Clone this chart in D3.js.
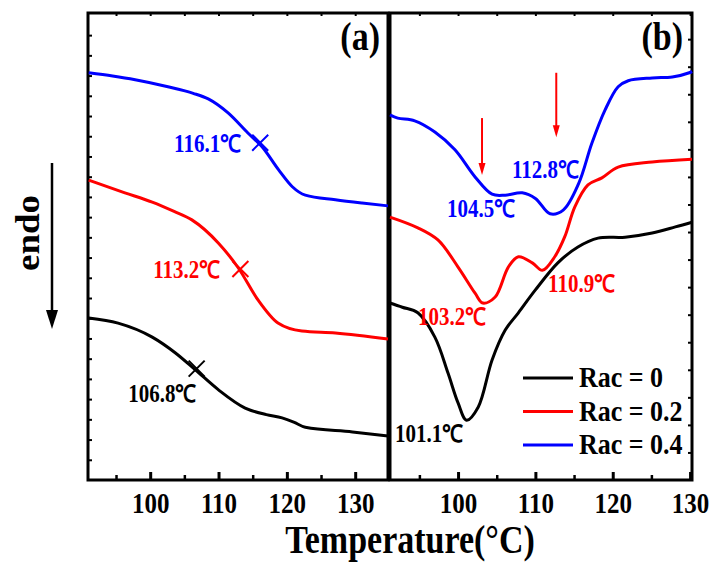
<!DOCTYPE html>
<html>
<head>
<meta charset="utf-8">
<script src="https://cdn.jsdelivr.net/npm/d3@7"></script>
<style>
  body { margin: 0; background: #fff; }
  text { font-family: "Liberation Serif", "Times New Roman", serif; font-weight: bold; }
</style>
</head>
<body>
<div id="chart"></div>
<script>
// DSC curves, heat flow in arbitrary units (endo down)
// panel (a)
var tBlackA = [91, 95.3, 100.3, 103.7, 106.6, 110, 113.9, 117, 119.3, 121, 122.7, 129.6, 134.8];
var uBlackA = [34.7, 33.6, 30.6, 27.2, 23.6, 19.3, 15.4, 14.0, 13.3, 12.4, 11.3, 10.3, 9.4];
var tRedA = [91, 96.3, 100.3, 103.5, 106.1, 110, 112.9, 115.8, 118.7, 122.2, 127.1, 134.8];
var uRedA = [64.2, 61.5, 59.5, 57.5, 55.7, 50.7, 45.4, 38.5, 33.6, 31.9, 31.5, 30.2];
var tBlueA = [91, 94.5, 97.8, 102.6, 106.3, 108.5, 111.4, 114.3, 116.4, 118.8, 120.8, 122.7, 127.1, 131, 134.8];
var uBlueA = [87.2, 86.5, 85.7, 84.2, 82.8, 81.6, 78.6, 74.3, 71.3, 66.4, 62.8, 61.0, 60.0, 59.3, 58.7];

// panel (b)
var tBlackB = [91.2, 92.8, 94.8, 97, 98.7, 100, 101.1, 102.6, 104.4, 106.1, 107.8, 110, 112.9, 115.5, 118.1, 121.6, 125.1, 128.1, 130.25];
var uBlackB = [37.9, 37.0, 35.8, 30.6, 22.9, 16.5, 12.8, 15.6, 25.7, 32.1, 35.8, 40.7, 46.5, 49.9, 51.8, 52.0, 52.9, 54.2, 55.2];
var tRedB = [91.2, 94.8, 97.4, 100, 102.2, 103.2, 104.8, 106.5, 107.8, 109.6, 110.9, 112.5, 113.8, 115.1, 116.8, 118.6, 120.7, 125.1, 130.25];
var uRedB = [56.3, 54.0, 51.4, 45.6, 40.0, 37.9, 39.2, 45.6, 47.8, 46.5, 44.9, 47.8, 52.1, 58.5, 63.2, 64.7, 67.0, 68.1, 68.7];
var tBlueB = [91.2, 92.2, 94.4, 97, 99.6, 102.2, 104.4, 106.1, 108.3, 110, 111.9, 113.6, 115.6, 117.3, 119.0, 120.7, 122, 125.1, 127.7, 129.9, 130.25];
var uBlueB = [78.2, 77.5, 76.9, 74.5, 70.7, 64.9, 61.2, 61.0, 61.5, 60.3, 57.0, 57.8, 63.5, 72.1, 79.2, 84.2, 85.5, 86.1, 86.3, 87.2, 87.5];

// glass transition marks (a) and peak labels (b)
var tgA = [106.8, 113.2, 116.1];
var peakB = [101.1, 103.2, 110.9, 104.5, 112.8];
var arrowB = [103.1, 112.7];

var seriesNames = ["Rac = 0", "Rac = 0.2", "Rac = 0.4"];
var colors = ["#000000", "#ff0000", "#0000ff"];
var xTicks = [100, 110, 120, 130];

var W = 714, H = 565;
var top0 = 13, bottom0 = 480;

var svg = d3.select("#chart").append("svg").attr("width", W).attr("height", H);

var y = d3.scaleLinear().domain([0, 100]).range([bottom0, top0]);
var xa = d3.scaleLinear().domain([90.9, 134.8]).range([88, 388]);
var xb = d3.scaleLinear().domain([91.2, 130.25]).range([390, 692]);

function zipup(t, u) { return t.map(function (d, i) { return [d, u[i]]; }); }

function interp(t, u, v) {
  for (var i = 1; i < t.length; i++) {
    if (v <= t[i]) {
      var f = (v - t[i - 1]) / (t[i] - t[i - 1]);
      return u[i - 1] + f * (u[i] - u[i - 1]);
    }
  }
  return u[u.length - 1];
}

// text with a slight vertical stretch like the original figure
function label(x0, y0, str, size, color, anchor) {
  return svg.append("text")
    .attr("transform", "translate(" + x0 + "," + y0 + ") scale(1,1.15)")
    .attr("text-anchor", anchor || "start")
    .style("font-size", size + "px")
    .style("fill", color || "#000")
    .text(str);
}

function drawPanel(x, ticksLeft, ticksRight) {
  var g = svg.append("g");
  var minor = d3.range(95, x.domain()[1], 5).filter(function (d) { return d % 10 != 0; });
  var all5 = d3.range(95, x.domain()[1], 5);

  g.append("g").attr("transform", "translate(0," + bottom0 + ")")
    .call(d3.axisBottom(x).tickValues(xTicks).tickSize(-8).tickPadding(0).tickFormat(d3.format("d")))
    .call(function (s) {
      s.select(".domain").remove();
      s.selectAll("line").attr("stroke-width", 3);
      s.selectAll("text").attr("y", 0).attr("dy", 0)
        .attr("transform", "translate(0,33) scale(1,1.15)")
        .style("font-size", "25px").style("font-family", "Liberation Serif").style("font-weight", "bold");
    });
  g.append("g").attr("transform", "translate(0," + bottom0 + ")")
    .call(d3.axisBottom(x).tickValues(minor).tickSize(-5).tickFormat(""))
    .call(function (s) { s.select(".domain").remove(); s.selectAll("line").attr("stroke-width", 2.5); });
  g.append("g").attr("transform", "translate(0," + top0 + ")")
    .call(d3.axisTop(x).tickValues(all5).tickSize(-3).tickFormat(""))
    .call(function (s) { s.select(".domain").remove(); s.selectAll("line").attr("stroke-width", 2); });

  if (ticksLeft) {
    g.append("g").attr("transform", "translate(" + x.range()[0] + ",0)")
      .call(d3.axisLeft(y).tickValues(ticksLeft).tickSize(-4).tickFormat(""))
      .call(function (s) { s.select(".domain").remove(); s.selectAll("line").attr("stroke-width", 2); });
  }
  if (ticksRight) {
    g.append("g").attr("transform", "translate(" + x.range()[1] + ",0)")
      .call(d3.axisRight(y).tickValues(ticksRight).tickSize(-4).tickFormat(""))
      .call(function (s) { s.select(".domain").remove(); s.selectAll("line").attr("stroke-width", 2); });
  }

  g.append("rect")
    .attr("x", x.range()[0]).attr("y", top0)
    .attr("width", x.range()[1] - x.range()[0]).attr("height", bottom0 - top0)
    .attr("fill", "none").attr("stroke", "#000").attr("stroke-width", 3);
  return g;
}

drawPanel(xa, d3.range(4.33, 99, 4.33), null);
drawPanel(xb, null, d3.range(5.9, 99, 5.9));

function curve(x, c) {
  return d3.line().x(function (d) { return x(d[0]); }).y(function (d) { return y(d[1]); })
    .curve(c);
}

var dataA = [zipup(tBlackA, uBlackA), zipup(tRedA, uRedA), zipup(tBlueA, uBlueA)];
var dataB = [zipup(tBlackB, uBlackB), zipup(tRedB, uRedB), zipup(tBlueB, uBlueB)];

svg.append("g").selectAll("path").data(dataA).join("path")
  .attr("d", curve(xa, d3.curveMonotoneX))
  .attr("fill", "none").attr("stroke", function (d, i) { return colors[i]; })
  .attr("stroke-width", 3);

svg.append("g").selectAll("path").data(dataB).join("path")
  .attr("d", curve(xb, d3.curveCatmullRom.alpha(0.5)))
  .attr("fill", "none").attr("stroke", function (d, i) { return colors[i]; })
  .attr("stroke-width", 3);

// Tg crosses on panel (a)
var tsA = [tBlackA, tRedA, tBlueA], usA = [uBlackA, uRedA, uBlueA];
tgA.forEach(function (tg, i) {
  var cx = xa(tg), cy = y(interp(tsA[i], usA[i], tg) + 0.5);
  var s = 8;
  svg.append("path")
    .attr("d", "M" + (cx - s) + "," + (cy + s) + "L" + (cx + s) + "," + (cy - s) +
               "M" + (cx - s) + "," + (cy - s) + "L" + (cx + s) + "," + (cy + s))
    .attr("stroke", colors[i]).attr("stroke-width", 2).attr("fill", "none");
});

// labels on panel (a)
label(xa(96.78), y(16.7), tgA[0].toFixed(1) + "\u2103", 21, colors[0]);
label(xa(100.44), y(43.3), tgA[1].toFixed(1) + "\u2103", 21, colors[1]);
label(xa(103.5), y(70.2), tgA[2].toFixed(1) + "\u2103", 21, colors[2]);

// labels on panel (b)
label(xb(91.85), y(8.1), peakB[0].toFixed(1) + "\u2103", 21, colors[0]);
label(xb(94.83), y(33.2), peakB[1].toFixed(1) + "\u2103", 21, colors[1]);
label(xb(111.64), y(40.3), peakB[2].toFixed(1) + "\u2103", 21, colors[1]);
label(xb(98.58), y(56.3), peakB[3].toFixed(1) + "\u2103", 21, colors[2]);
label(xb(106.98), y(64.7), peakB[4].toFixed(1) + "\u2103", 21, colors[2]);

// red arrows in panel (b)
var arrowTop = [77.5, 87.2], arrowBot = [65.3, 73.4];
arrowB.forEach(function (t, i) {
  var ax = xb(t), y1 = y(arrowTop[i]), y2 = y(arrowBot[i]);
  svg.append("line").attr("x1", ax).attr("x2", ax).attr("y1", y1).attr("y2", y2 - 10)
    .attr("stroke", "#ff0000").attr("stroke-width", 2);
  svg.append("path")
    .attr("d", "M" + (ax - 3.5) + "," + (y2 - 12) + "L" + (ax + 3.5) + "," + (y2 - 12) + "L" + ax + "," + y2 + "Z")
    .attr("fill", "#ff0000");
});

// panel labels
label(380, 50, "(a)", 34, "#000", "end");
label(683, 50, "(b)", 34, "#000", "end");

// legend
seriesNames.forEach(function (name, i) {
  var ly = 378 + i * 33.5;
  svg.append("line").attr("x1", 523).attr("x2", 573).attr("y1", ly).attr("y2", ly)
    .attr("stroke", colors[i]).attr("stroke-width", 3);
  label(579, ly + 9, name, 26, "#000");
});

// axis title
label(410, 553, "Temperature(\u00B0C)", 34, "#000", "middle");

// endo arrow
svg.append("text")
  .attr("transform", "translate(39,233) rotate(-90) scale(1.12,1)")
  .attr("text-anchor", "middle")
  .style("font-size", "33px")
  .text("endo");
svg.append("line").attr("x1", 52).attr("x2", 52).attr("y1", 163).attr("y2", 312)
  .attr("stroke", "#000").attr("stroke-width", 2.5);
svg.append("path").attr("d", "M46,310L58,310L52,329Z").attr("fill", "#000");
</script>
</body>
</html>
